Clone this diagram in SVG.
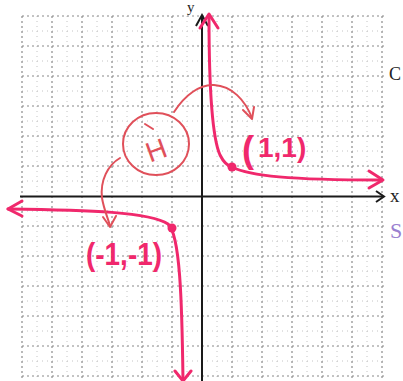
<svg xmlns="http://www.w3.org/2000/svg" width="403" height="381" viewBox="0 0 403 381">
<defs>
<style>
.maj{stroke:#8a8a8a;stroke-width:1.2;stroke-dasharray:2 3;fill:none}
.min{stroke:#c4c4c4;stroke-width:1;stroke-dasharray:1 4;fill:none}
.axis{stroke:#1a1a1a;stroke-width:2;fill:none}
.curve{stroke:#f0286c;stroke-width:3;fill:none;stroke-linecap:round;stroke-linejoin:round}
.note{stroke:#e0505a;stroke-width:2;fill:none;stroke-linecap:round;stroke-linejoin:round}
.lbl{fill:#f0286c;font-family:"Liberation Sans",Arial,sans-serif;font-weight:bold}
.dark{fill:#222;font-family:"Liberation Serif",serif}
</style>
</defs>
<rect width="403" height="381" fill="#ffffff"/>
<g id="grid">
<path class="min" d="M37,16V381M67,16V381M97,16V381M127,16V381M157,16V381M187,16V381M217,16V381M247,16V381M277,16V381M307,16V381M337,16V381M367,16V381M22,31H384M22,61H384M22,91H384M22,121H384M22,151H384M22,181H384M22,211H384M22,241H384M22,271H384M22,301H384M22,331H384M22,361H384"/>
<path class="maj" d="M22,16V381M52,16V381M82,16V381M112,16V381M142,16V381M172,16V381M232,16V381M262,16V381M292,16V381M322,16V381M352,16V381M382,16V381M22,16H384M22,46H384M22,76H384M22,106H384M22,136H384M22,166H384M22,226H384M22,256H384M22,286H384M22,316H384M22,346H384M22,376H384"/>
</g>
<g id="axes">
<path class="axis" d="M202,15V381"/>
<path class="axis" d="M196,26L202,15L208,26"/>
<path class="axis" d="M20,196.5H383"/>
<path class="axis" d="M376,191L384,196.5L376,202"/>
<text class="dark" x="390" y="202" font-size="19">x</text>
<text class="dark" x="187" y="12" font-size="15">y</text>
<text class="dark" x="389" y="80" font-size="18">C</text>
<text x="390" y="238" font-size="22" font-family="Liberation Serif,serif" fill="#9a80d0">S</text>
</g>
<g id="connectors">
<path class="curve" d="M209,16C209,80 211,135 220,155C224,163 228,166 232,167C250,176 290,180 380,180"/>
<path class="curve" d="M200,28L209,14L218,28"/>
<path class="curve" d="M369,171L383,180L369,188"/>
<path class="curve" d="M8,209C90,210 150,212 168,224C180,234 182,300 183,381"/>
<path class="curve" d="M22,201L8,209L22,216"/>
<path class="curve" d="M175,371L183,381L191,371"/>
<path class="note" d="M174,112C185,95 200,84 214,85C232,86 245,100 252,118"/>
<path class="note" d="M243,110L252,119L254,107"/>
<path class="note" d="M120,158C108,165 100,180 102,198C104,210 108,218 110,226"/>
<path class="note" d="M103,217L110,227L116,216"/>
</g>
<g id="point-upper">
<circle cx="232" cy="167" r="4.5" fill="#f0286c"/>
<text class="lbl" x="242" y="162" font-size="36" font-weight="normal">(</text>
<text class="lbl" x="258" y="157" font-size="28">1,1)</text>
</g>
<g id="point-lower">
<circle cx="172" cy="228" r="4.5" fill="#f0286c"/>
<text class="lbl" x="86" y="265" font-size="32" textLength="76" lengthAdjust="spacingAndGlyphs">(-1,-1)</text>
</g>
<g id="multiplier">
<ellipse cx="156" cy="144" rx="33" ry="31" class="note"/>
<path class="note" d="M145,124L153,129"/>
<text x="156" y="160" font-size="28" fill="#e0505a" font-family="Liberation Sans,Arial,sans-serif" text-anchor="middle" transform="rotate(-20 156 150)">H</text>
</g>
</svg>
